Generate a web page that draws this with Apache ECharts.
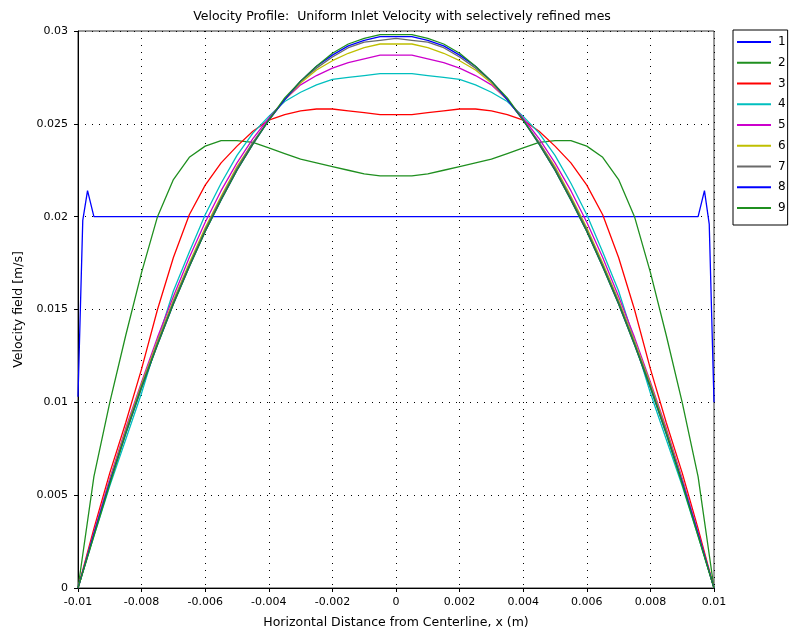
<!DOCTYPE html>
<html>
<head>
<meta charset="utf-8">
<script src="https://cdn.jsdelivr.net/npm/echarts@6/dist/echarts.min.js"></script>
<style>
  html, body { margin: 0; padding: 0; background: #fff; }
  #chart { width: 798px; height: 631px; }
</style>
</head>
<body>
<div id="chart"></div>
<script>
// x positions (m), -0.01 .. 0.01 step 0.0005
const xs = [
  -0.01, -0.0095, -0.009, -0.0085, -0.008, -0.0075, -0.007, -0.0065, -0.006, -0.0055,
  -0.005, -0.0045, -0.004, -0.0035, -0.003, -0.0025, -0.002, -0.0015, -0.001, -0.0005,
  0,
  0.0005, 0.001, 0.0015, 0.002, 0.0025, 0.003, 0.0035, 0.004, 0.0045, 0.005,
  0.0055, 0.006, 0.0065, 0.007, 0.0075, 0.008, 0.0085, 0.009, 0.0095, 0.01
];

// curve 1 has its own points (flat profile with wall spikes)
const x1 = [-0.01, -0.00985, -0.0097, -0.0095, 0.0095, 0.0097, 0.00985, 0.01];
const v1 = [0.0103, 0.0198, 0.0214, 0.0200, 0.0200, 0.0214, 0.0196, 0.0100];

const v2 = [0, 0.0060, 0.0100, 0.0136, 0.0170, 0.0200, 0.0220, 0.0232, 0.0238, 0.0241,
  0.0241, 0.0240, 0.0237, 0.0234, 0.0231, 0.0229, 0.0227, 0.0225, 0.0223, 0.0222,
  0.0222,
  0.0222, 0.0223, 0.0225, 0.0227, 0.0229, 0.0231, 0.0234, 0.0237, 0.0240, 0.0241,
  0.0241, 0.0238, 0.0232, 0.0220, 0.0200, 0.0170, 0.0136, 0.0100, 0.0060, 0];
const v3 = [0, 0.0032, 0.0062, 0.0089, 0.0118, 0.0150, 0.0178, 0.0201, 0.0217, 0.0229,
  0.0238, 0.0246, 0.0252, 0.0255, 0.0257, 0.0258, 0.0258, 0.0257, 0.0256, 0.0255,
  0.0255,
  0.0255, 0.0256, 0.0257, 0.0258, 0.0258, 0.0257, 0.0255, 0.0252, 0.0246, 0.0238,
  0.0229, 0.0217, 0.0201, 0.0178, 0.0150, 0.0118, 0.0089, 0.0062, 0.0032, 0];
const v4 = [0, 0.0028, 0.0055, 0.0080, 0.0105, 0.0133, 0.0160, 0.0181, 0.0201, 0.0218,
  0.0233, 0.0245, 0.0254, 0.0262, 0.0267, 0.0271, 0.0274, 0.0275, 0.0276, 0.0277,
  0.0277,
  0.0277, 0.0276, 0.0275, 0.0274, 0.0271, 0.0267, 0.0262, 0.0254, 0.0245, 0.0233,
  0.0218, 0.0201, 0.0181, 0.0160, 0.0133, 0.0105, 0.0080, 0.0055, 0.0028, 0];
const v5 = [0, 0.0030, 0.0059, 0.0086, 0.0111, 0.0135, 0.0157, 0.0178, 0.0197, 0.0214,
  0.0229, 0.0242, 0.0253, 0.0263, 0.0271, 0.0276, 0.0280, 0.0283, 0.0285, 0.0287,
  0.0287,
  0.0287, 0.0285, 0.0283, 0.0280, 0.0276, 0.0271, 0.0263, 0.0253, 0.0242, 0.0229,
  0.0214, 0.0197, 0.0178, 0.0157, 0.0135, 0.0111, 0.0086, 0.0059, 0.0030, 0];
const v6 = [0, 0.0029, 0.0058, 0.0085, 0.0110, 0.0133, 0.0155, 0.0175, 0.0194, 0.0211,
  0.0227, 0.0240, 0.0252, 0.0263, 0.0272, 0.0279, 0.0284, 0.0288, 0.0291, 0.0293,
  0.0293,
  0.0293, 0.0291, 0.0288, 0.0284, 0.0279, 0.0272, 0.0263, 0.0252, 0.0240, 0.0227,
  0.0211, 0.0194, 0.0175, 0.0155, 0.0133, 0.0110, 0.0085, 0.0058, 0.0029, 0];
const v7 = [0, 0.0029, 0.0057, 0.0084, 0.0109, 0.0132, 0.0154, 0.0174, 0.0193, 0.0210,
  0.0226, 0.0240, 0.0252, 0.0263, 0.0273, 0.0280, 0.0286, 0.0291, 0.0294, 0.0295,
  0.0296,
  0.0295, 0.0294, 0.0291, 0.0286, 0.0280, 0.0273, 0.0263, 0.0252, 0.0240, 0.0226,
  0.0210, 0.0193, 0.0174, 0.0154, 0.0132, 0.0109, 0.0084, 0.0057, 0.0029, 0];
const v8 = [0, 0.0029, 0.0057, 0.0083, 0.0108, 0.0131, 0.0153, 0.0173, 0.0192, 0.0209,
  0.0225, 0.0239, 0.0252, 0.0263, 0.0273, 0.0281, 0.0287, 0.0292, 0.0295, 0.0297,
  0.0297,
  0.0297, 0.0295, 0.0292, 0.0287, 0.0281, 0.0273, 0.0263, 0.0252, 0.0239, 0.0225,
  0.0209, 0.0192, 0.0173, 0.0153, 0.0131, 0.0108, 0.0083, 0.0057, 0.0029, 0];
const v9 = [0, 0.0028, 0.0056, 0.0083, 0.0108, 0.0131, 0.0153, 0.0173, 0.0192, 0.0209,
  0.0225, 0.0239, 0.0252, 0.0264, 0.0273, 0.0281, 0.0288, 0.0293, 0.0296, 0.0298,
  0.0298,
  0.0298, 0.0296, 0.0293, 0.0288, 0.0281, 0.0273, 0.0264, 0.0252, 0.0239, 0.0225,
  0.0209, 0.0192, 0.0173, 0.0153, 0.0131, 0.0108, 0.0083, 0.0056, 0.0028, 0];

const names = ['1', '2', '3', '4', '5', '6', '7', '8', '9'];
const colors = ['#0000ff', '#1f8f1f', '#ff0000', '#00bfbf', '#cc00cc', '#bfbf00', '#6a6a6a', '#0000ff', '#1f8f1f'];

const xTicks = [-0.01, 0.01, 0.002];   // min, max, step
const yTicks = [0, 0.03, 0.005];

function pairs(x, v) {
    return x.map(function (xv, i) { return [xv, v[i]]; });
}

const chartDom = document.getElementById('chart');
const myChart = echarts.init(chartDom);

const values = [null, v2, v3, v4, v5, v6, v7, v8, v9];
const series = names.map(function (n, i) {
    return {
        name: n,
        type: 'line',
        symbol: 'none',
        animation: false,
        data: i === 0 ? pairs(x1, v1) : pairs(xs, values[i]),
        lineStyle: { width: 1.3, color: colors[i] },
        itemStyle: { color: colors[i] }
    };
});

const font = 'DejaVu Sans';
const option = {
    backgroundColor: '#fff',
    title: {
        text: 'Velocity Profile:  Uniform Inlet Velocity with selectively refined mes',
        left: 397,
        textAlign: 'center',
        top: 5,
        textStyle: { fontFamily: font, fontSize: 12.5, fontWeight: 'normal', color: '#000' }
    },
    legend: {
        orient: 'vertical',
        left: 733,
        top: 30,
        padding: [5, 2, 10, 4],
        icon: 'rect',
        itemWidth: 34,
        itemHeight: 2,
        itemGap: 6.75,
        borderColor: '#000',
        borderWidth: 1,
        backgroundColor: '#fff',
        textStyle: { fontFamily: font, fontSize: 12, color: '#000', padding: [0, 0, 0, 2], lineHeight: 14 },
        data: names
    },
    grid: {
        left: 78,
        right: 84,
        top: 31,
        bottom: 43,
        outerBoundsMode: 'none',
        show: true,
        borderColor: '#333',
        borderWidth: 1
    },
    xAxis: {
        type: 'value',
        min: xTicks[0],
        max: xTicks[1],
        interval: xTicks[2],
        name: 'Horizontal Distance from Centerline, x (m)',
        nameLocation: 'middle',
        nameGap: 28,
        nameTextStyle: { fontFamily: font, fontSize: 12.5, color: '#000' },
        axisLine: { onZero: false, lineStyle: { color: '#000' } },
        axisTick: { show: true, length: 4, lineStyle: { color: '#000' } },
        axisLabel: { fontFamily: font, fontSize: 11, color: '#000', margin: 9 },
        splitLine: { lineStyle: { color: '#000', type: [1, 6], width: 1 } }
    },
    yAxis: {
        type: 'value',
        min: yTicks[0],
        max: yTicks[1],
        interval: yTicks[2],
        name: 'Velocity field [m/s]',
        nameLocation: 'middle',
        nameGap: 52,
        nameTextStyle: { fontFamily: font, fontSize: 12.5, color: '#000' },
        axisLine: { onZero: false, lineStyle: { color: '#000' } },
        axisTick: { show: true, length: 4, lineStyle: { color: '#000' } },
        axisLabel: { fontFamily: font, fontSize: 11, color: '#000', margin: 10 },
        splitLine: { lineStyle: { color: '#000', type: [1, 6], width: 1 } }
    },
    series: series
};
myChart.setOption(option);
</script>
</body>
</html>
